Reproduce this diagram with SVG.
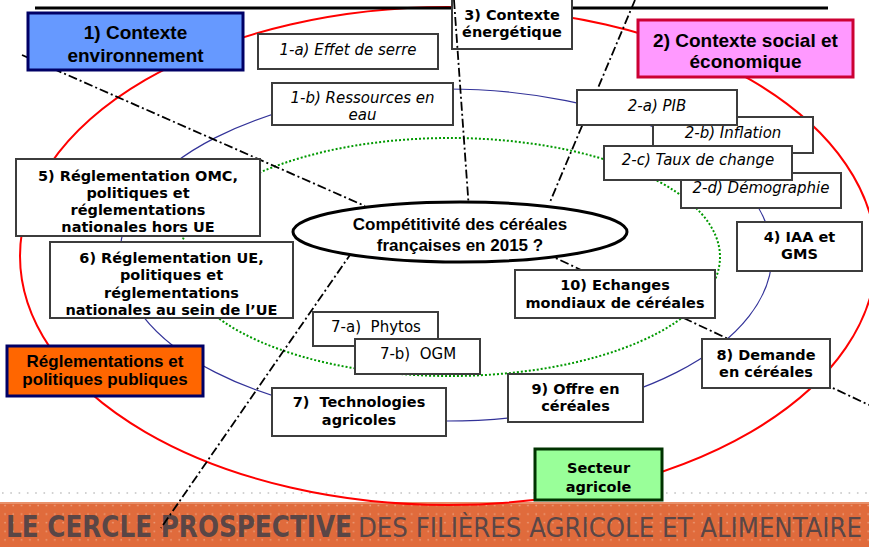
<svg xmlns="http://www.w3.org/2000/svg" width="869" height="547" viewBox="0 0 869 547">
<style>
.bx{fill:#fff;stroke:#3c3c3c;stroke-width:2}
.vb{font-family:"DejaVu Sans",Verdana,sans-serif;font-weight:bold;font-size:14.5px;text-anchor:middle;fill:#000}
.vi{font-family:"DejaVu Sans",Verdana,sans-serif;font-style:italic;font-size:15px;text-anchor:middle;fill:#000}
.vr{font-family:"DejaVu Sans",Verdana,sans-serif;font-size:15px;text-anchor:middle;fill:#000;white-space:pre}
.ab{font-family:"Liberation Sans",Arial,sans-serif;font-weight:bold;text-anchor:middle;fill:#000}
.dd{fill:none;stroke:#000;stroke-width:1.8;stroke-dasharray:9 3 2 3}
.ring{fill:none}
.bn{font-family:"DejaVu Sans Condensed","Liberation Sans Narrow","DejaVu Sans",sans-serif;fill:#5a4646}
</style>
<defs>
<pattern id="dots" width="8.3" height="8.6" patternUnits="userSpaceOnUse" x="3" y="503">
<circle cx="2" cy="2.5" r="0.9" fill="#ec9f7c"/>
</pattern>
</defs>
<rect width="869" height="547" fill="#fff"/>

<g id="banner">
<line x1="2" y1="493" x2="869" y2="493" stroke="#d2d2d2" stroke-width="2" stroke-dasharray="1.6 6.7"/>
<rect x="0" y="502" width="869" height="45" fill="#e06b3c"/>
<rect x="0" y="502" width="869" height="45" fill="url(#dots)"/>
<rect x="0" y="502" width="869" height="2" fill="#e8906a"/>
<text class="bn" x="6" y="537" font-size="31" font-weight="bold" textLength="346" lengthAdjust="spacingAndGlyphs">LE CERCLE PROSPECTIVE</text>
<text class="bn" x="358" y="537" font-size="27" textLength="504" lengthAdjust="spacingAndGlyphs">DES FILIÈRES AGRICOLE ET ALIMENTAIRE</text>
</g>

<g id="rings">
<ellipse class="ring" cx="448" cy="256" rx="428" ry="249" stroke="#ff0000" stroke-width="2"/>
<ellipse class="ring" cx="446" cy="255" rx="326" ry="166" stroke="#333399" stroke-width="1.2"/>
<ellipse class="ring" cx="450" cy="257" rx="270" ry="119" stroke="#009900" stroke-width="2" stroke-dasharray="2 2"/>
</g>

<line id="top-rule" x1="35" y1="8" x2="828" y2="8" stroke="#000" stroke-width="3"/>

<g id="n3">
<rect class="bx" x="452" y="-2" width="120" height="51"/>
<text class="vb" x="512" y="20">3) Contexte</text>
<text class="vb" x="512" y="37">énergétique</text>
</g>

<g id="connectors">
<line class="dd" x1="22" y1="55" x2="365" y2="206"/>
<line class="dd" x1="545" y1="253" x2="869" y2="405"/>
<line class="dd" x1="454" y1="0" x2="469" y2="210"/>
<line class="dd" x1="635" y1="0" x2="550" y2="202"/>
<line class="dd" x1="352" y1="252" x2="161" y2="528"/>
</g>

<g id="center">
<ellipse cx="460" cy="232" rx="167" ry="30" fill="#fff" stroke="#000" stroke-width="3"/>
<text class="ab" x="460" y="230" font-size="17">Compétitivité des céréales</text>
<text class="ab" x="460" y="251" font-size="17">françaises en 2015 ?</text>
</g>

<g id="n1">
<rect x="28" y="13" width="215" height="57" fill="#6699ff" stroke="#000066" stroke-width="3"/>
<text class="ab" x="135.5" y="39" font-size="19">1) Contexte</text>
<text class="ab" x="135.5" y="62" font-size="19">environnement</text>
</g>

<g id="n1a">
<rect class="bx" x="258" y="34" width="180" height="35"/>
<text class="vi" x="348" y="55">1-a) Effet de serre</text>
</g>

<g id="n1b">
<rect class="bx" x="272" y="83" width="181" height="42"/>
<text class="vi" x="362.5" y="103">1-b) Ressources en</text>
<text class="vi" x="362.5" y="120">eau</text>
</g>

<g id="n2">
<rect x="638" y="20" width="215" height="57" fill="#ff99ff" stroke="#cc0033" stroke-width="3"/>
<text class="ab" x="745.5" y="47" font-size="19">2) Contexte social et</text>
<text class="ab" x="745.5" y="68" font-size="19">économique</text>
</g>

<g id="n2b">
<rect class="bx" x="653" y="117" width="160" height="36"/>
<text class="vi" x="733" y="138">2-b) Inflation</text>
</g>
<g id="n2d">
<rect class="bx" x="681" y="173" width="160" height="35"/>
<text class="vi" x="761" y="193">2-d) Démographie</text>
</g>
<g id="n2a">
<rect class="bx" x="577" y="90" width="160" height="35"/>
<text class="vi" x="657" y="111">2-a) PIB</text>
</g>
<g id="n2c">
<rect class="bx" x="604" y="146" width="188" height="34"/>
<text class="vi" x="698" y="165">2-c) Taux de change</text>
</g>

<g id="n4">
<rect class="bx" x="737" y="222" width="125" height="49"/>
<text class="vb" x="799.5" y="242">4) IAA et</text>
<text class="vb" x="799.5" y="259">GMS</text>
</g>

<g id="n5">
<rect class="bx" x="16" y="159" width="244" height="77"/>
<text class="vb" x="138" y="181">5) Réglementation OMC,</text>
<text class="vb" x="138" y="198">politiques et</text>
<text class="vb" x="138" y="215">réglementations</text>
<text class="vb" x="138" y="232">nationales hors UE</text>
</g>

<g id="n6">
<rect class="bx" x="50" y="242" width="243" height="76"/>
<text class="vb" x="171.5" y="263">6) Réglementation UE,</text>
<text class="vb" x="171.5" y="280">politiques et</text>
<text class="vb" x="171.5" y="297.5">réglementations</text>
<text class="vb" x="171.5" y="315">nationales au sein de l’UE</text>
</g>

<g id="nreg">
<rect x="7" y="346" width="196" height="50" fill="#ff6600" stroke="#000066" stroke-width="3"/>
<text class="ab" x="105" y="367" font-size="17">Réglementations et</text>
<text class="ab" x="105" y="385" font-size="17">politiques publiques</text>
</g>

<g id="n7a">
<rect class="bx" x="313" y="312" width="125" height="34"/>
<text class="vr" x="376" y="332">7-a)  Phytos</text>
</g>
<g id="n7b">
<rect class="bx" x="355" y="339" width="125" height="35"/>
<text class="vr" x="418" y="359">7-b)  OGM</text>
</g>

<g id="n7">
<rect class="bx" x="272" y="388" width="174" height="48"/>
<text class="vb" x="359" y="407" style="white-space:pre">7)  Technologies</text>
<text class="vb" x="359" y="425">agricoles</text>
</g>

<g id="n10">
<rect class="bx" x="515" y="270" width="200" height="48"/>
<text class="vb" x="615" y="290">10) Echanges</text>
<text class="vb" x="615" y="308">mondiaux de céréales</text>
</g>

<g id="n8">
<rect class="bx" x="702" y="339" width="128" height="49"/>
<text class="vb" x="766" y="360">8) Demande</text>
<text class="vb" x="766" y="377">en céréales</text>
</g>

<g id="n9">
<rect class="bx" x="508" y="374" width="135" height="48"/>
<text class="vb" x="575.5" y="394">9) Offre en</text>
<text class="vb" x="575.5" y="411">céréales</text>
</g>

<g id="nsect">
<rect x="535" y="449" width="127" height="51" fill="#99ff99" stroke="#003300" stroke-width="3"/>
<text class="vb" x="598.5" y="473" font-size="17">Secteur</text>
<text class="vb" x="598.5" y="492" font-size="17">agricole</text>
</g>
</svg>
